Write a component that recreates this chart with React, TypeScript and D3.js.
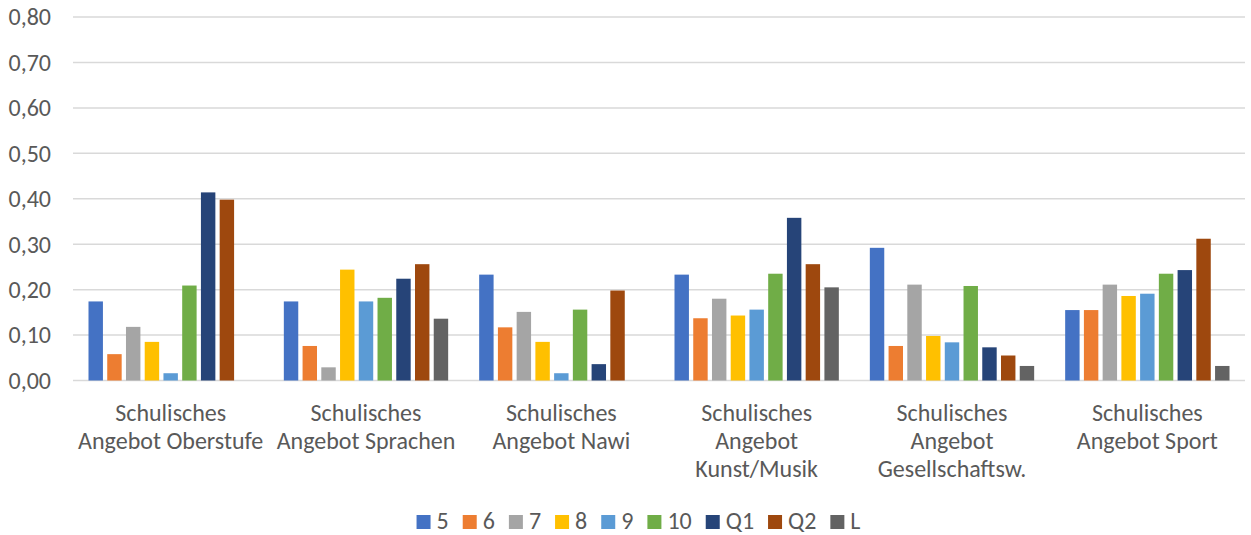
import React, { useEffect, useRef } from "react";
import * as d3 from "d3";

const categories = [
  ["Schulisches", "Angebot Oberstufe"],
  ["Schulisches", "Angebot Sprachen"],
  ["Schulisches", "Angebot Nawi"],
  ["Schulisches", "Angebot", "Kunst/Musik"],
  ["Schulisches", "Angebot", "Gesellschaftsw."],
  ["Schulisches", "Angebot Sport"],
];

const seriesNames = ["5", "6", "7", "8", "9", "10", "Q1", "Q2", "L"];

const seriesColors = ["#4472C4", "#ED7D31", "#A5A5A5", "#FFC000", "#5B9BD5", "#70AD47", "#264478", "#9E480E", "#636363"];

// values[series][category]
const values = [
  [0.174, 0.174, 0.233, 0.233, 0.292, 0.155],
  [0.058, 0.076, 0.117, 0.137, 0.076, 0.155],
  [0.118, 0.029, 0.151, 0.18, 0.211, 0.211],
  [0.085, 0.244, 0.085, 0.143, 0.098, 0.186],
  [0.016, 0.174, 0.016, 0.156, 0.084, 0.191],
  [0.209, 0.182, 0.156, 0.235, 0.208, 0.235],
  [0.414, 0.224, 0.036, 0.358, 0.073, 0.243],
  [0.398, 0.256, 0.198, 0.256, 0.055, 0.312],
  [0, 0.136, 0, 0.205, 0.032, 0.032],
];

const yTicks = [0, 0.1, 0.2, 0.3, 0.4, 0.5, 0.6, 0.7, 0.8];

const W = 1251;
const H = 535;
const FONT = "Carlito, Calibri, Lato, sans-serif";
const FS = 24;

const App: React.FC = () => {
  const svgRef = useRef<SVGSVGElement | null>(null);

  useEffect(() => {
    const svg = d3.select(svgRef.current);
    svg.selectAll("*").remove();

    const left = 73;
    const right = 1245;
    const top = 17;
    const bottom = 380.5;

    const y = d3.scaleLinear().domain([0, 0.8]).range([bottom, top]);
    const x0 = d3
      .scaleBand<number>()
      .domain(categories.map((_, i) => i))
      .range([left, right]);
    const gap = 15.5;
    const x1 = d3
      .scaleBand<number>()
      .domain(seriesNames.map((_, i) => i))
      .range([gap, x0.bandwidth() - gap])
      .paddingInner(0.23)
      .paddingOuter(0);

    // gridlines
    svg
      .append("g")
      .selectAll("line")
      .data(yTicks)
      .join("line")
      .attr("x1", left)
      .attr("x2", right)
      .attr("y1", (d) => y(d))
      .attr("y2", (d) => y(d))
      .attr("stroke", "#d9d9d9")
      .attr("stroke-width", 1.5);

    // y labels
    svg
      .append("g")
      .selectAll("text")
      .data(yTicks)
      .join("text")
      .attr("x", 51)
      .attr("y", (d) => y(d))
      .attr("dy", "0.35em")
      .attr("text-anchor", "end")
      .attr("font-family", FONT)
      .attr("font-size", FS)
      .attr("fill", "#595959")
      .text((d) => d3.format(".2f")(d).replace(".", ","));

    // bars
    const groups = svg
      .append("g")
      .selectAll("g")
      .data(categories.map((_, ci) => ci))
      .join("g")
      .attr("transform", (ci) => `translate(${x0(ci)},0)`);

    groups
      .selectAll("rect")
      .data((ci) => values.map((s, si) => ({ si, v: s[ci] })).filter((d) => d.v > 0))
      .join("rect")
      .attr("x", (d) => x1(d.si)!)
      .attr("width", x1.bandwidth())
      .attr("y", (d) => y(d.v))
      .attr("height", (d) => bottom - y(d.v))
      .attr("fill", (d) => seriesColors[d.si]);

    // category labels
    svg
      .append("g")
      .selectAll("text")
      .data(categories)
      .join("text")
      .attr("x", (_, i) => x0(i)! + x0.bandwidth() / 2)
      .attr("y", 421)
      .attr("text-anchor", "middle")
      .attr("font-family", FONT)
      .attr("font-size", FS)
      .attr("fill", "#595959")
      .selectAll("tspan")
      .data((d) => d)
      .join("tspan")
      .attr("x", function () {
        return (this.parentNode as SVGTextElement).getAttribute("x");
      })
      .attr("dy", (_, i) => (i === 0 ? 0 : 28))
      .text((d) => d);

    // legend
    const legend = svg.append("g").attr("transform", "translate(0,522)");
    const items = legend.selectAll("g").data(seriesNames).join("g");
    items
      .append("rect")
      .attr("y", -7)
      .attr("width", 14)
      .attr("height", 14)
      .attr("fill", (_, i) => seriesColors[i]);
    items
      .append("text")
      .attr("x", 20)
      .attr("y", 7)
      .attr("font-family", FONT)
      .attr("font-size", FS)
      .attr("fill", "#595959")
      .text((d) => d);
    const widths: number[] = [];
    items.each(function () {
      const t = d3.select(this).select("text").node() as SVGTextElement;
      widths.push(20 + t.getComputedTextLength());
    });
    const spacing = 14;
    const total = d3.sum(widths) + spacing * (widths.length - 1);
    let cx = 638.5 - total / 2;
    items.attr("transform", (_, i) => {
      const pos = cx;
      cx += widths[i] + spacing;
      return `translate(${pos},0)`;
    });
  }, []);

  return (
    <svg
      ref={svgRef}
      width={W}
      height={H}
      style={{ position: "absolute", left: 0, top: 0, background: "#fff" }}
    />
  );
};

export default App;
